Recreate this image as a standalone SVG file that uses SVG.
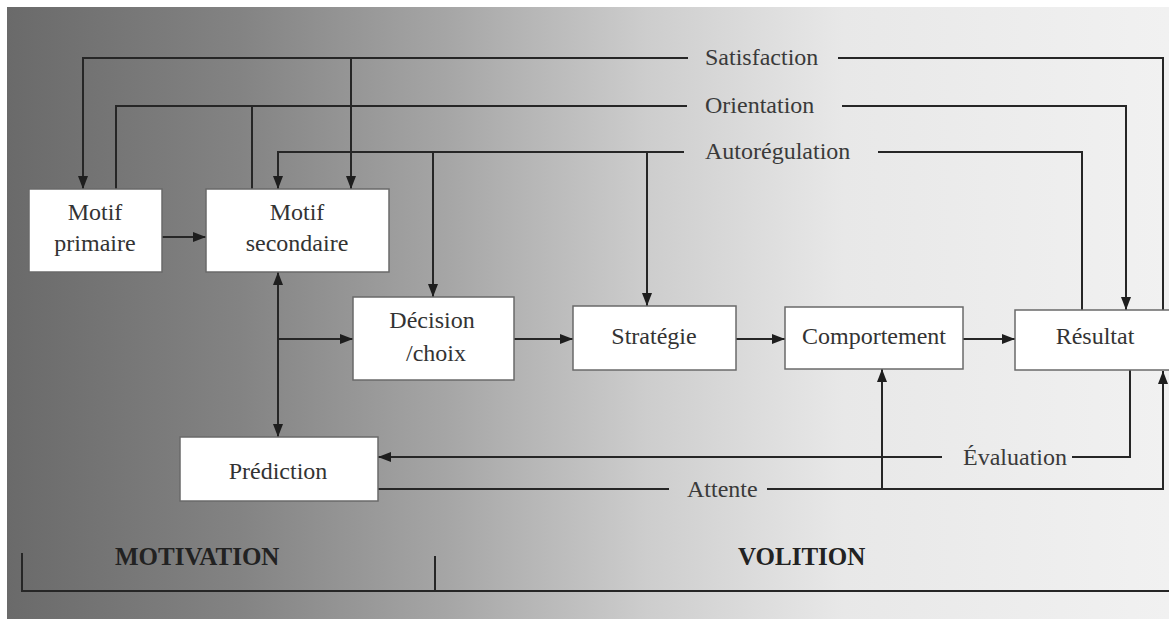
<svg xmlns="http://www.w3.org/2000/svg" width="1169" height="619" viewBox="0 0 1169 619">
<defs>
<linearGradient id="bg" x1="0" y1="0" x2="1" y2="0">
<stop offset="0" stop-color="#6a6a6a"/>
<stop offset="0.2" stop-color="#838383"/>
<stop offset="0.38" stop-color="#a6a6a6"/>
<stop offset="0.55" stop-color="#cdcdcd"/>
<stop offset="0.72" stop-color="#e8e8e8"/>
<stop offset="1" stop-color="#f1f1f1"/>
</linearGradient>
<marker id="ah" markerUnits="userSpaceOnUse" markerWidth="13" markerHeight="12" viewBox="0 0 13 12" refX="13" refY="6" orient="auto">
<path d="M0,1 L13,6 L0,11 z" fill="#1e1e1e"/>
</marker>
<style>
.box{fill:#ffffff;stroke:#6a6a6a;stroke-width:1.5}
.t{font-family:"Liberation Serif",serif;font-size:24px;fill:#333333;text-anchor:middle}
.lab{font-family:"Liberation Serif",serif;font-size:24px;fill:#3a3a3a}
.hd{font-family:"Liberation Serif",serif;font-size:25px;font-weight:bold;fill:#222222}
.c{fill:none;stroke:#262626;stroke-width:2}
.a{marker-end:url(#ah)}
</style>
</defs>
<rect x="0" y="0" width="1169" height="619" fill="#ffffff"/>
<rect x="7" y="7" width="1162" height="612" fill="url(#bg)"/>

<g id="connectors">
<!-- Satisfaction -->
<path class="c a" d="M688,58 H83 V189"/>
<path class="c a" d="M351,58 V189"/>
<path class="c" d="M838,58 H1163 V310"/>
<!-- Orientation -->
<path class="c" d="M116,189 V106 H687"/>
<path class="c" d="M252,189 V106"/>
<path class="c a" d="M842,106 H1126 V310"/>
<!-- Autoregulation -->
<path class="c a" d="M684,152 H278 V189"/>
<path class="c a" d="M433,152 V297"/>
<path class="c a" d="M647,152 V306"/>
<path class="c" d="M878,152 H1082 V310"/>
<!-- main flow -->
<path class="c a" d="M162,237 H206"/>
<path class="c a" d="M278,339 V272"/>
<path class="c a" d="M278,339 V437"/>
<path class="c a" d="M278,339 H353"/>
<path class="c a" d="M514,339 H573"/>
<path class="c a" d="M736,339 H785"/>
<path class="c a" d="M963,339 H1015"/>
<!-- Evaluation -->
<path class="c" d="M1130,370 V457 H1072"/>
<path class="c a" d="M942,457 H378"/>
<!-- Attente -->
<path class="c" d="M378,489 H669"/>
<path class="c a" d="M767,489 H1163 V371"/>
<path class="c a" d="M882,489 V369"/>
<!-- bracket -->
<path class="c" d="M22,553 V591 H1169"/>
<path class="c" d="M435,556 V591"/>
</g>

<g id="labels">
<text class="lab" x="705" y="65">Satisfaction</text>
<text class="lab" x="705" y="113">Orientation</text>
<text class="lab" x="705" y="159">Autorégulation</text>
<text class="lab" x="963" y="465">Évaluation</text>
<text class="lab" x="687" y="497">Attente</text>
<text class="hd" x="115" y="565">MOTIVATION</text>
<text class="hd" x="738" y="565">VOLITION</text>
</g>

<g id="motif-primaire">
<rect class="box" x="29" y="189" width="133" height="83"/>
<text class="t" x="95" y="220">Motif</text>
<text class="t" x="95" y="251">primaire</text>
</g>
<g id="motif-secondaire">
<rect class="box" x="206" y="189" width="183" height="83"/>
<text class="t" x="297" y="220">Motif</text>
<text class="t" x="297" y="251">secondaire</text>
</g>
<g id="decision">
<rect class="box" x="353" y="297" width="161" height="83"/>
<text class="t" x="432" y="328">Décision</text>
<text class="t" x="436" y="361">/choix</text>
</g>
<g id="strategie">
<rect class="box" x="573" y="306" width="163" height="64"/>
<text class="t" x="654" y="344">Stratégie</text>
</g>
<g id="comportement">
<rect class="box" x="785" y="307" width="178" height="62"/>
<text class="t" x="874" y="344">Comportement</text>
</g>
<g id="resultat">
<rect class="box" x="1015" y="310" width="160" height="60"/>
<text class="t" x="1095" y="344">Résultat</text>
</g>
<g id="prediction">
<rect class="box" x="180" y="437" width="198" height="64"/>
<text class="t" x="278" y="479">Prédiction</text>
</g>
</svg>
